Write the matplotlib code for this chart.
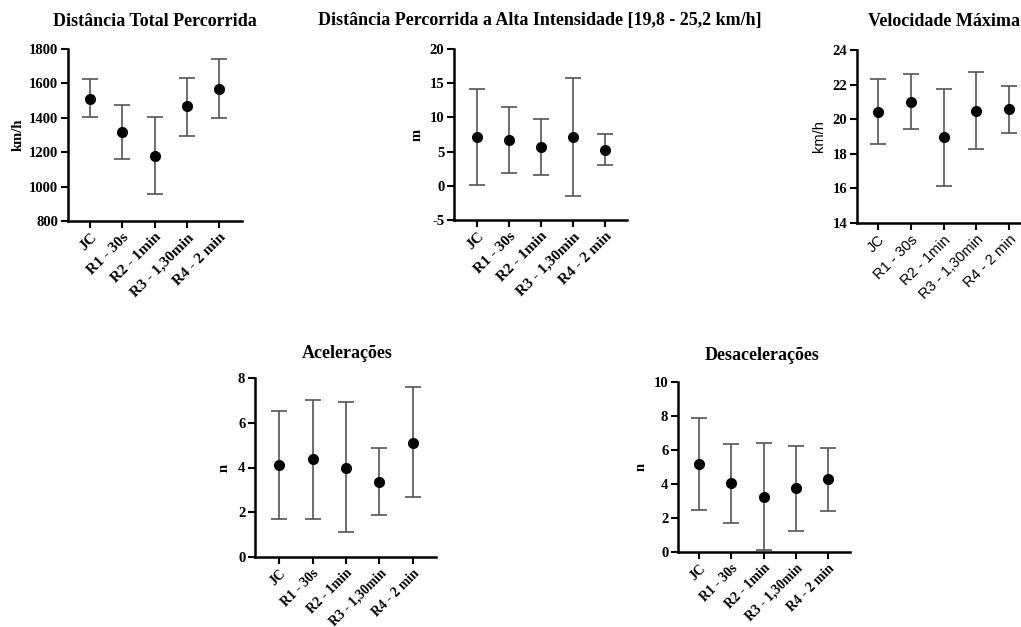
import matplotlib
matplotlib.use("Agg")
import matplotlib.pyplot as plt

categories = ["JC", "R1 - 30s", "R2 - 1min", "R3 - 1,30min", "R4 - 2 min"]

dist_mean = [1511, 1317, 1179, 1466, 1565]
dist_hi = [1625, 1476, 1404, 1633, 1740]
dist_lo = [1402, 1159, 959, 1297, 1396]

hi_mean = [7.09, 6.70, 5.72, 7.13, 5.28]
hi_hi = [14.1, 11.52, 9.77, 15.71, 7.52]
hi_lo = [0.1, 1.82, 1.63, -1.44, 3.10]

vmax_mean = [20.44, 21.02, 18.97, 20.50, 20.60]
vmax_hi = [22.33, 22.63, 21.77, 22.75, 21.94]
vmax_lo = [18.54, 19.43, 16.16, 18.28, 19.23]

acc_mean = [4.11, 4.38, 4.00, 3.37, 5.11]
acc_hi = [6.53, 7.02, 6.91, 4.87, 7.58]
acc_lo = [1.72, 1.72, 1.10, 1.87, 2.66]

dec_mean = [5.15, 4.03, 3.25, 3.74, 4.27]
dec_hi = [7.87, 6.34, 6.40, 6.26, 6.09]
dec_lo = [2.45, 1.68, 0.12, 1.25, 2.43]

W, H = 1021, 627
fig = plt.figure(figsize=(W / 100, H / 100), dpi=100)

SERIF = ["Liberation Serif", "DejaVu Serif"]
SANS = ["Liberation Sans", "DejaVu Sans"]


def make_ax(l, r, t, b, xlim, ylim, yticks, mean, hi, lo, title, ylabel,
            title_x, title_y, sans_x=False, sans_ylabel=False, ylabelpad=4,
            xfs=11):
    ax = fig.add_axes([l / W, 1 - b / H, (r - l) / W, (b - t) / H])
    x = list(range(len(categories)))
    yerr = [[m - lo_ for m, lo_ in zip(mean, lo)], [h - m for m, h in zip(mean, hi)]]
    ax.errorbar(x, mean, yerr=yerr, fmt="none", ecolor="#555555",
                elinewidth=1.2, capsize=6, capthick=1.2, zorder=2)
    ax.plot(x, mean, "o", color="black", ms=7, zorder=3)
    ax.set_xlim(*xlim)
    ax.set_ylim(*ylim)
    ax.set_yticks(yticks)
    ax.set_yticklabels([str(v) for v in yticks], fontfamily=SERIF,
                       fontweight="bold", fontsize=10.5)
    ax.set_xticks(x)
    if sans_x:
        ax.set_xticklabels(categories, rotation=45, ha="right",
                           rotation_mode="anchor", fontfamily=SANS, fontsize=10.5)
    else:
        ax.set_xticklabels(categories, rotation=45, ha="right",
                           rotation_mode="anchor", fontfamily=SERIF,
                           fontweight="bold", fontsize=xfs)
    for s in ["top", "right"]:
        ax.spines[s].set_visible(False)
    for s in ["left", "bottom"]:
        ax.spines[s].set_linewidth(1.8)
    ax.tick_params(axis="both", direction="out", length=5, width=1.5, pad=2)
    if sans_ylabel:
        ax.set_ylabel(ylabel, fontfamily=SANS, fontsize=10.5, labelpad=ylabelpad)
    else:
        ax.set_ylabel(ylabel, fontfamily=SERIF, fontweight="bold",
                      fontsize=10.5, labelpad=ylabelpad)
    fig.text(title_x / W, 1 - title_y / H, title, ha="center", va="center",
             fontfamily=SERIF, fontweight="bold", fontsize=13)
    return ax


make_ax(68, 242, 49, 221, (-0.68, 4.7), (800, 1800),
        [800, 1000, 1200, 1400, 1600, 1800], dist_mean, dist_hi, dist_lo,
        "Distância Total Percorrida", "km/h", 155, 21, ylabelpad=3)
make_ax(454, 627, 49, 220, (-0.72, 4.69), (-5, 20),
        [-5, 0, 5, 10, 15, 20], hi_mean, hi_hi, hi_lo,
        "Distância Percorrida a Alta Intensidade [19,8 - 25,2 km/h]", "m", 540, 21)
make_ax(857, 1032, 50, 223, (-0.64, 4.7), (14, 24),
        [14, 16, 18, 20, 22, 24], vmax_mean, vmax_hi, vmax_lo,
        "Velocidade Máxima", "km/h", 944, 21, sans_x=True, sans_ylabel=True,
        ylabelpad=5)
make_ax(255, 436, 378, 557, (-0.72, 4.69), (0, 8),
        [0, 2, 4, 6, 8], acc_mean, acc_hi, acc_lo,
        "Acelerações", "n", 347, 353, ylabelpad=5, xfs=9.8)
make_ax(678, 850, 382, 552, (-0.65, 4.67), (0, 10),
        [0, 2, 4, 6, 8, 10], dec_mean, dec_hi, dec_lo,
        "Desacelerações", "n", 762, 355, ylabelpad=4, xfs=9.8)

fig.savefig("out.png", dpi=100, facecolor="white")
